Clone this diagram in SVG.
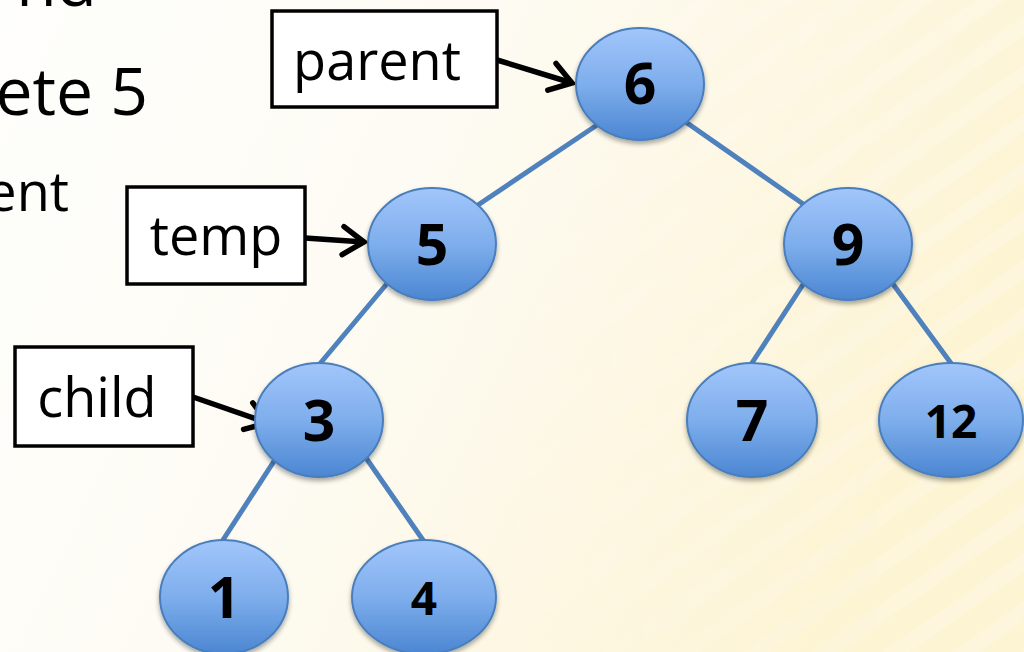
<svg xmlns="http://www.w3.org/2000/svg" width="1024" height="652" viewBox="0 0 1024 652">
<defs>
<linearGradient id="bg" x1="0" y1="0" x2="1" y2="0.3">
<stop offset="0" stop-color="#fefefc"/>
<stop offset="0.45" stop-color="#fdfbf3"/>
<stop offset="1" stop-color="#fdf4d4"/>
</linearGradient>
<linearGradient id="fade" x1="0" y1="0" x2="1" y2="0">
<stop offset="0.4" stop-color="#fff" stop-opacity="0"/>
<stop offset="1" stop-color="#fff" stop-opacity="1"/>
</linearGradient>
<pattern id="stripes" width="40" height="40" patternUnits="userSpaceOnUse" patternTransform="rotate(-35)">
<rect width="40" height="16" fill="#ffffff" opacity="0.22"/>
</pattern>
<mask id="stripeMask"><rect width="1024" height="652" fill="url(#fade)"/></mask>
<linearGradient id="nodeFill" x1="0" y1="0" x2="0" y2="1">
<stop offset="0" stop-color="#a2c6fb"/>
<stop offset="0.5" stop-color="#7eaeec"/>
<stop offset="1" stop-color="#4b86d2"/>
</linearGradient>
<filter id="sh" x="-20%" y="-20%" width="140%" height="150%">
<feGaussianBlur in="SourceAlpha" stdDeviation="2.5"/>
<feOffset dx="0" dy="3"/>
<feComponentTransfer><feFuncA type="linear" slope="0.35"/></feComponentTransfer>
<feMerge><feMergeNode/><feMergeNode in="SourceGraphic"/></feMerge>
</filter>
<marker id="arr" markerWidth="12" markerHeight="12" refX="9" refY="6" orient="auto" markerUnits="userSpaceOnUse" viewBox="0 0 12 12" overflow="visible">
<path d="M-12,-8 L9,6 L-12,20" fill="none" stroke="#000" stroke-width="5.5" stroke-linecap="round" stroke-linejoin="miter"/>
</marker>
</defs>
<style>
.node ellipse{fill:url(#nodeFill);stroke:#4a7ebb;stroke-width:2;filter:url(#sh)}
.num{font-family:"Open Sans","Liberation Sans",sans-serif;font-weight:bold;font-size:57px;text-anchor:middle;fill:#000}
.numS{font-size:46px}
.edge{stroke:#4f81bd;stroke-width:5;fill:none}
.ptr{stroke:#000;stroke-width:5.5;fill:none;marker-end:url(#arr)}
.box rect{fill:#fff;stroke:#000;stroke-width:3.5}
.lbl{font-family:"Open Sans","Liberation Sans",sans-serif;font-size:54px;fill:#000;text-anchor:middle}
.side{font-family:"Open Sans","Liberation Sans",sans-serif;fill:#000}
</style>
<rect width="1024" height="652" fill="url(#bg)"/>
<rect width="1024" height="652" fill="url(#stripes)" mask="url(#stripeMask)"/>
<g id="side-text">
<text class="side" x="97" y="6" font-size="66" text-anchor="end">nd</text>
<text class="side" x="148" y="115" font-size="66" text-anchor="end">ete 5</text>
<text class="side" x="69" y="211" font-size="54" text-anchor="end">ent</text>
</g>
<g id="connectors">
<line class="edge" x1="603" y1="121" x2="472" y2="209"/>
<line class="edge" x1="680" y1="118" x2="806" y2="206"/>
<line class="edge" x1="390" y1="280" x2="318" y2="366"/>
<line class="edge" x1="278" y1="455" x2="221" y2="543"/>
<line class="edge" x1="364" y1="455" x2="425" y2="543"/>
<line class="edge" x1="806" y1="280" x2="750" y2="366"/>
<line class="edge" x1="890" y1="280" x2="953" y2="366"/>
<path class="ptr" d="M497,60 L572,83"/>
<path class="ptr" d="M305,238 L364,242"/>
<path class="ptr" d="M193,397 L268,423"/>
</g>
<g id="node-6" class="node"><ellipse cx="640" cy="84" rx="64" ry="56"/><text class="num" x="640" y="104">6</text></g>
<g id="node-5" class="node"><ellipse cx="432" cy="244" rx="64" ry="56"/><text class="num" x="432" y="265">5</text></g>
<g id="node-9" class="node"><ellipse cx="848" cy="244" rx="64" ry="56"/><text class="num" x="848" y="265">9</text></g>
<g id="node-3" class="node"><ellipse cx="319" cy="420" rx="64" ry="57"/><text class="num" x="319" y="441">3</text></g>
<g id="node-7" class="node"><ellipse cx="752" cy="420" rx="65" ry="57"/><text class="num" x="752" y="441">7</text></g>
<g id="node-12" class="node"><ellipse cx="951" cy="420" rx="72" ry="57"/><text class="num numS" x="951" y="438">12</text></g>
<g id="node-1" class="node"><ellipse cx="224" cy="597" rx="64" ry="57"/><text class="num" x="224" y="618">1</text></g>
<g id="node-4" class="node"><ellipse cx="424" cy="597" rx="72" ry="57"/><text class="num numS" x="424" y="615">4</text></g>
<g id="box-parent" class="box"><rect x="272" y="11" width="225" height="96"/><text class="lbl" x="377" y="80">parent</text></g>
<g id="box-temp" class="box"><rect x="127" y="187" width="178" height="97"/><text class="lbl" x="216" y="255">temp</text></g>
<g id="box-child" class="box"><rect x="15" y="347" width="178" height="99"/><text class="lbl" x="97" y="417">child</text></g>
</svg>
